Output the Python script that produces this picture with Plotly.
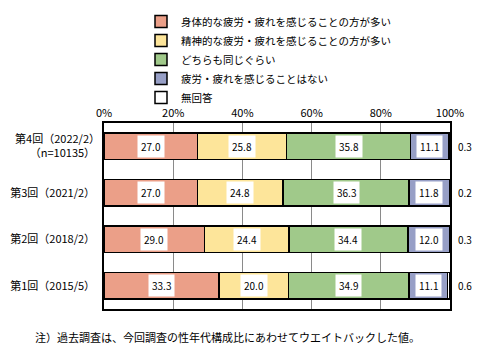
import plotly.graph_objects as go

categories = ["第4回（2022/2）<br>（n=10135）", "第3回（2021/2）", "第2回（2018/2）", "第1回（2015/5）"]
series_names = [
    "身体的な疲労・疲れを感じることの方が多い",
    "精神的な疲労・疲れを感じることの方が多い",
    "どちらも同じぐらい",
    "疲労・疲れを感じることはない",
    "無回答",
]
physical = [27.0, 27.0, 29.0, 33.3]
mental = [25.8, 24.8, 24.4, 20.0]
both = [35.8, 36.3, 34.4, 34.9]
none_ = [11.1, 11.8, 12.0, 11.1]
no_answer = [0.3, 0.2, 0.3, 0.6]
tick_vals = [0, 20, 40, 60, 80, 100]
tick_text = ["0%", "20%", "40%", "60%", "80%", "100%"]
footnote = "注）過去調査は、今回調査の性年代構成比にあわせてウエイトバックした値。"

colors = ["#EB9F88", "#FDE59A", "#A0C98A", "#979FC6", "#FFFFFF"]
series = [physical, mental, both, none_, no_answer]

FONT = "Noto Sans CJK JP"
PL, PR, PT, PB = 104, 43, 123, 52
PW, PH = 493 - PL - PR, 361 - PT - PB

fig = go.Figure()
for name, vals, col in zip(series_names, series, colors):
    fig.add_trace(go.Bar(
        y=categories, x=vals, name=name, orientation="h",
        marker=dict(color=col, line=dict(color="black", width=1.5)),
        width=0.58, hoverinfo="skip",
    ))

annotations = []
for i, cat in enumerate(categories):
    cum = 0
    for k in range(4):
        v = series[k][i]
        annotations.append(dict(
            x=cum + v / 2, y=cat, xref="x", yref="y",
            text=f"{v:.1f}", showarrow=False,
            bgcolor="white", borderpad=3,
            font=dict(family=FONT, size=10, color="black"),
        ))
        cum += v
    annotations.append(dict(
        x=100, y=cat, xref="x", yref="y", xanchor="left", xshift=6,
        text=f"{no_answer[i]:.1f}", showarrow=False,
        font=dict(family=FONT, size=10, color="black"),
    ))

annotations.append(dict(
    x=(33 - PL) / PW, y=-(337 - (PT + PH)) / PH, xref="paper", yref="paper",
    xanchor="left", yanchor="middle", text=footnote, showarrow=False,
    font=dict(family=FONT, size=11, color="black"),
))

fig.update_layout(
    barmode="stack",
    width=493, height=361,
    margin=dict(l=PL, r=PR, t=PT, b=PB, autoexpand=False),
    paper_bgcolor="white", plot_bgcolor="white",
    font=dict(family=FONT, size=12, color="black"),
    showlegend=True,
    legend=dict(
        x=(141 - PL) / PW, y=1 + (PT - 7) / PH,
        xanchor="left", yanchor="top", traceorder="normal",
        font=dict(family=FONT, size=10.5), itemwidth=30,
        tracegroupgap=0, bgcolor="rgba(0,0,0,0)",
    ),
    annotations=annotations,
    xaxis=dict(
        side="top", range=[0, 100], tickvals=tick_vals, ticktext=tick_text,
        showgrid=True, gridcolor="#8A8A8A", gridwidth=1,
        showline=True, linecolor="black", linewidth=1.5, mirror=True,
        zeroline=False, ticks="", tickfont=dict(size=11), fixedrange=True,
    ),
    yaxis=dict(
        categoryorder="array", categoryarray=categories, autorange="reversed",
        showline=True, linecolor="black", linewidth=1.5, mirror=True,
        ticks="", tickfont=dict(size=11), fixedrange=True,
        ticksuffix="  ",
    ),
)
fig.write_html(
    "out.html",
    config={"displayModeBar": False},
    post_script="document.body.style.margin='0';document.body.style.overflow='hidden';",
)
